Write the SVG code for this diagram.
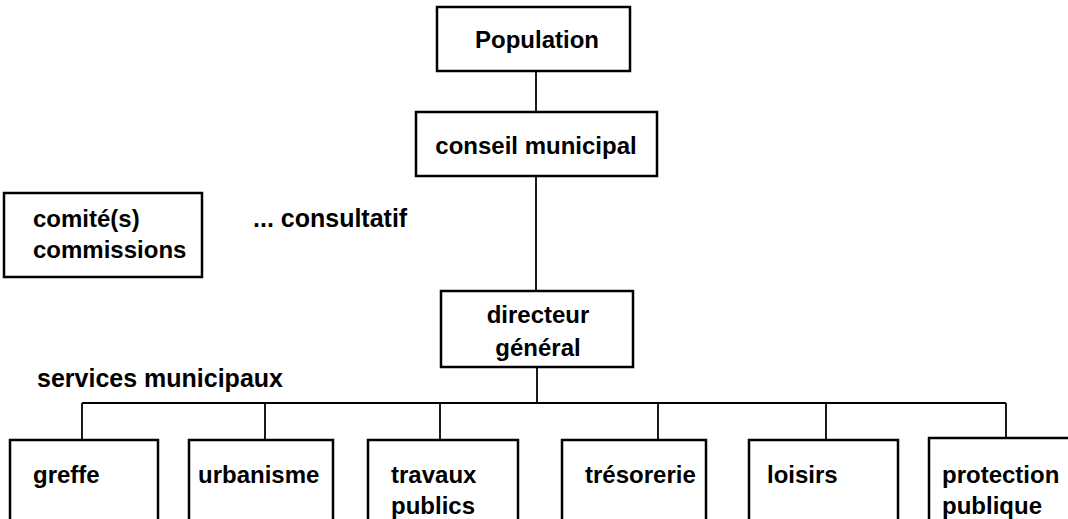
<svg xmlns="http://www.w3.org/2000/svg" width="1068" height="519" viewBox="0 0 1068 519">
  <style>
    .box { fill: #ffffff; stroke: #000000; stroke-width: 2.5; }
    .link { fill: none; stroke: #000000; stroke-width: 1.8; }
    text { font-family: "Liberation Sans", Arial, sans-serif; font-weight: bold; font-size: 24px; fill: #000000; }
    .mid { text-anchor: middle; }
    .note { font-size: 25px; }
  </style>
  <rect width="1068" height="519" fill="#ffffff"/>

  <!-- connectors -->
  <g id="connectors">
    <line class="link" x1="536" y1="71" x2="536" y2="112"/>
    <line class="link" x1="536" y1="176" x2="536" y2="291"/>
    <line class="link" x1="537" y1="367" x2="537" y2="403"/>
    <line class="link" x1="82" y1="403" x2="1006" y2="403"/>
    <line class="link" x1="82" y1="403" x2="82" y2="440"/>
    <line class="link" x1="265" y1="403" x2="265" y2="440"/>
    <line class="link" x1="440" y1="403" x2="440" y2="440"/>
    <line class="link" x1="658" y1="403" x2="658" y2="440"/>
    <line class="link" x1="826" y1="403" x2="826" y2="440"/>
    <line class="link" x1="1006" y1="403" x2="1006" y2="438"/>
  </g>

  <g id="population">
    <rect class="box" x="437" y="7" width="193" height="64"/>
    <text class="mid" x="537" y="48">Population</text>
  </g>

  <g id="conseil">
    <rect class="box" x="416" y="112" width="241" height="64"/>
    <text class="mid" x="536" y="154">conseil municipal</text>
  </g>

  <g id="comites">
    <rect class="box" x="4" y="193" width="198" height="84"/>
    <text x="33" y="227">comité(s)</text>
    <text x="33" y="258">commissions</text>
  </g>

  <text id="consultatif" class="note" x="253" y="227">... consultatif</text>

  <g id="directeur">
    <rect class="box" x="441" y="291" width="192" height="76"/>
    <text class="mid" x="538" y="323">directeur</text>
    <text class="mid" x="538" y="356">général</text>
  </g>

  <text id="services" class="note" x="37" y="387">services municipaux</text>

  <g id="greffe">
    <rect class="box" x="10" y="440" width="148" height="100"/>
    <text x="33" y="483">greffe</text>
  </g>

  <g id="urbanisme">
    <rect class="box" x="189" y="440" width="144" height="100"/>
    <text x="198" y="483">urbanisme</text>
  </g>

  <g id="travaux">
    <rect class="box" x="368" y="440" width="150" height="100"/>
    <text x="391" y="483">travaux</text>
    <text x="391" y="514">publics</text>
  </g>

  <g id="tresorerie">
    <rect class="box" x="562" y="440" width="144" height="100"/>
    <text x="585" y="483">trésorerie</text>
  </g>

  <g id="loisirs">
    <rect class="box" x="749" y="440" width="149" height="100"/>
    <text x="767" y="483">loisirs</text>
  </g>

  <g id="protection">
    <rect class="box" x="929" y="438" width="160" height="100"/>
    <text x="942" y="483">protection</text>
    <text x="942" y="514">publique</text>
  </g>
</svg>
